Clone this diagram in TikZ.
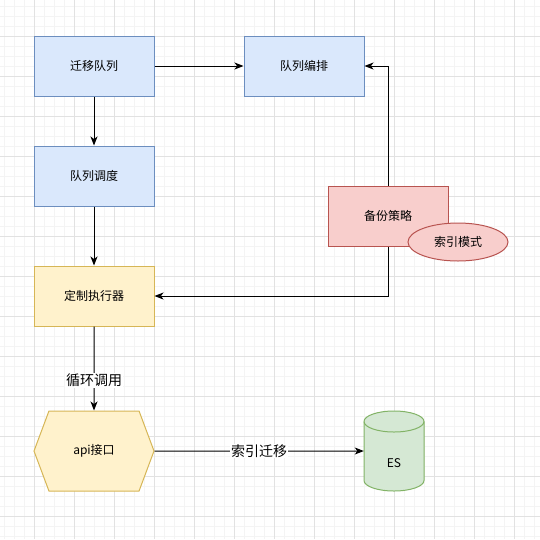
\documentclass[tikz,border=0pt]{standalone}
\usepackage{fontspec}
\setmainfont{Noto Sans CJK SC}
\usetikzlibrary{positioning,shapes.geometric,shapes.symbols,arrows.meta}
\definecolor{bluefill}{HTML}{DAE8FC}\definecolor{blueline}{HTML}{6C8EBF}
\definecolor{redfill}{HTML}{F8CECC}\definecolor{redline}{HTML}{B85450}
\definecolor{yellowfill}{HTML}{FFF2CC}\definecolor{yellowline}{HTML}{D6B656}
\definecolor{greenfill}{HTML}{D5E8D4}\definecolor{greenline}{HTML}{82B366}
\definecolor{gridminor}{HTML}{F4F4F4}\definecolor{gridmajor}{HTML}{E2E2E2}
\tikzset{
  box/.style={draw, line width=1pt, minimum width=120pt, minimum height=60pt,
    font=\fontsize{12}{14}\selectfont},
  bluebox/.style={box, fill=bluefill, draw=blueline},
  redbox/.style={box, fill=redfill, draw=redline},
  yellowbox/.style={box, fill=yellowfill, draw=yellowline},
  arr/.style={-{Stealth[length=9pt,width=7pt,inset=2.5pt]}, line width=1pt},
  lbl/.style={fill=white, inner sep=1pt, font=\fontsize{14}{16}\selectfont}
}
\begin{document}
\begin{tikzpicture}[x=1pt,y=-1pt]
    \useasboundingbox (0,0) rectangle (540,539);
    \fill[white] (0,0) rectangle (540,539);
    \foreach \x in {4,14,...,534} \draw[gridminor, line width=0.8pt] (\x,0) -- (\x,539);
    \foreach \y in {6,16,...,536} \draw[gridminor, line width=0.8pt] (0,\y) -- (540,\y);
    \foreach \x in {34,74,...,514} \draw[gridmajor, line width=0.8pt] (\x,0) -- (\x,539);
    \foreach \y in {36,76,...,516} \draw[gridmajor, line width=0.8pt] (0,\y) -- (540,\y);

    \node[bluebox] (migrate) at (94,66) {迁移队列};
    \node[bluebox, right=89pt of migrate] (arrange) {队列编排};
    \node[bluebox, below=49pt of migrate] (schedule) {队列调度};
    \node[yellowbox, below=59pt of schedule] (executor) {定制执行器};
    \node[signal, signal to=west and east, signal pointer angle=139, draw=yellowline,
      fill=yellowfill, line width=1pt, minimum width=120pt, minimum height=80pt,
      inner sep=0pt, font=\fontsize{12}{14}\selectfont,
      below=84pt of executor] (api) {api接口};
    \draw[greenline, fill=greenfill, line width=1pt] (364,421.5) -- (364,480.5)
      arc[start angle=180, end angle=0, x radius=30, y radius=10.5] -- (424,421.5)
      arc[start angle=360, end angle=180, x radius=30, y radius=10.5] -- cycle;
    \draw[greenline, line width=1pt] (364,421.5)
      arc[start angle=180, end angle=0, x radius=30, y radius=10.5];
    \node[minimum width=60pt, minimum height=80pt, inner sep=0pt,
      label={[font=\fontsize{12}{14}\selectfont, yshift=-12pt]center:ES}] (es) at (394,451) {};
    \node[redbox] (backup) at (388,216) {备份策略};

    \draw[arr] (migrate) -- (arrange);
    \draw[arr] (migrate) -- (schedule);
    \draw[arr] (schedule) -- (executor);
    \draw[arr] (backup) |- (arrange);
    \draw[arr] (backup) |- (executor);
    \draw[arr] (executor) -- node[lbl, pos=0.64]{循环调用} (api);
    \draw[arr] (api) -- node[lbl]{索引迁移} (es);

    \node[ellipse, draw=redline, fill=redfill, line width=1pt, minimum width=100pt,
      minimum height=38pt, inner sep=0pt, font=\fontsize{12}{14}\selectfont]
      (mode) at (458,242) {索引模式};
\end{tikzpicture}
\end{document}
